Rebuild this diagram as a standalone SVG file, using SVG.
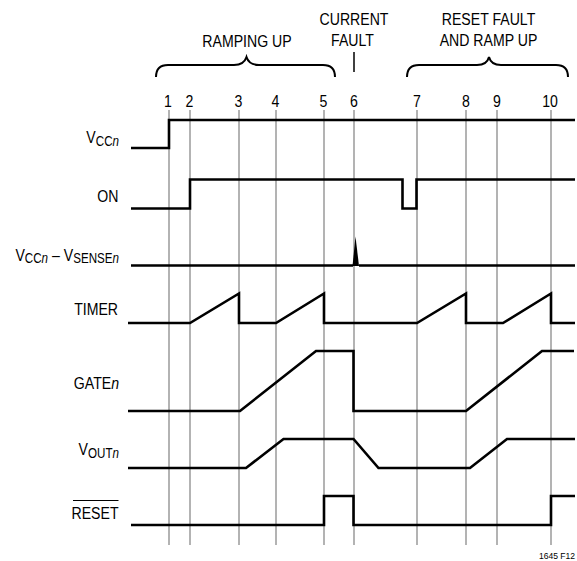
<svg xmlns="http://www.w3.org/2000/svg" width="577" height="561" viewBox="0 0 577 561">
<style>
text{font-family:"Liberation Sans Narrow","Liberation Sans",Arial,sans-serif;font-size:17px;fill:#000}
.sub{font-size:14px}
.it{font-style:italic}
.grid line{stroke:#808080;stroke-width:1.2}
.wave{fill:none;stroke:#000;stroke-width:2.6;stroke-linejoin:miter}
.brace{fill:none;stroke:#000;stroke-width:2}
</style>
<rect width="577" height="561" fill="#fff"/>
<g id="grid" class="grid">
<line x1="169" y1="110" x2="169" y2="545"/>
<line x1="190" y1="110" x2="190" y2="545"/>
<line x1="239" y1="110" x2="239" y2="545"/>
<line x1="276" y1="110" x2="276" y2="545"/>
<line x1="324" y1="110" x2="324" y2="545"/>
<line x1="354" y1="110" x2="354" y2="545"/>
<line x1="417" y1="110" x2="417" y2="545"/>
<line x1="466" y1="110" x2="466" y2="545"/>
<line x1="497" y1="110" x2="497" y2="545"/>
<line x1="551" y1="110" x2="551" y2="545"/>
</g>
<g id="numbers" text-anchor="middle">
<text transform="translate(168,106.5) scale(0.83,1)">1</text>
<text transform="translate(189.5,106.5) scale(0.83,1)">2</text>
<text transform="translate(238.5,106.5) scale(0.83,1)">3</text>
<text transform="translate(275.5,106.5) scale(0.83,1)">4</text>
<text transform="translate(323.5,106.5) scale(0.83,1)">5</text>
<text transform="translate(354,106.5) scale(0.83,1)">6</text>
<text transform="translate(417,106.5) scale(0.83,1)">7</text>
<text transform="translate(466,106.5) scale(0.83,1)">8</text>
<text transform="translate(497,106.5) scale(0.83,1)">9</text>
<text transform="translate(550,106.5) scale(0.83,1)">10</text>
</g>
<g id="phase-ramping" text-anchor="middle">
<text transform="translate(247,46.5) scale(0.83,1)">RAMPING UP</text>
<path class="brace" d="M156,77 Q156,65 168,65 L234,65 Q244,65 246.5,57 Q249,65 259,65 L323,65 Q335,65 335,77"/>
</g>
<g id="phase-fault" text-anchor="middle">
<text transform="translate(354,25) scale(0.83,1)">CURRENT</text>
<text transform="translate(352.5,46) scale(0.83,1)">FAULT</text>
<line x1="354" y1="52" x2="354" y2="72" stroke="#000" stroke-width="1.5"/>
</g>
<g id="phase-reset" text-anchor="middle">
<text transform="translate(488.5,25) scale(0.83,1)">RESET FAULT</text>
<text transform="translate(488.5,46) scale(0.83,1)">AND RAMP UP</text>
<path class="brace" d="M407,77 Q407,65 419,65 L477,65 Q487,65 489,57 Q491,65 501,65 L556,65 Q568,65 568,77"/>
</g>
<g id="vcc" text-anchor="end">
<text transform="translate(119,143) scale(0.83,1)">V<tspan class="sub" dy="2.5">CC</tspan><tspan class="sub it">n</tspan></text>
<path class="wave" d="M131,148 H169 V120 H575"/>
</g>
<g id="on" text-anchor="end">
<text transform="translate(118.5,202) scale(0.83,1)">ON</text>
<path class="wave" d="M131,208.5 H190 V179.5 H402.5 V208.5 H416.5 V179.5 H575"/>
</g>
<g id="vsense" text-anchor="end">
<text transform="translate(119,260.5) scale(0.83,1)">V<tspan class="sub" dy="2.5">CC</tspan><tspan class="sub it">n</tspan><tspan dy="-2.5"> – V</tspan><tspan class="sub" dy="2.5">SENSE</tspan><tspan class="sub it">n</tspan></text>
<path class="wave" d="M131,265.5 H353 M359,265.5 H575"/>
<polygon points="352.5,266 355.5,236.5 359,266" fill="#000"/>
</g>
<g id="timer" text-anchor="end">
<text transform="translate(118,315) scale(0.83,1)">TIMER</text>
<path class="wave" d="M128,323 H190 L239,293.5 V323 H276 L324,293.5 V323 H417 L466,293.5 V323 H503 L551,293.5 V323 H575"/>
</g>
<g id="gate" text-anchor="end">
<text transform="translate(119,389) scale(0.83,1)">GATE<tspan class="it">n</tspan></text>
<path class="wave" d="M128,411 H240 L316,351 H353.5 V411 H466 L542,351 H574"/>
</g>
<g id="vout" text-anchor="end">
<text transform="translate(119,455) scale(0.83,1)">V<tspan class="sub" dy="2.5">OUT</tspan><tspan class="sub it">n</tspan></text>
<path class="wave" d="M128,468 H246 L283.5,439 H353.5 L378.5,468 H470 L507,439 H575"/>
</g>
<g id="reset" text-anchor="end">
<text transform="translate(118.5,519) scale(0.83,1)">RESET</text>
<line x1="73" y1="500.5" x2="118.5" y2="500.5" stroke="#000" stroke-width="1"/>
<path class="wave" d="M131,525 H324 V496 H353.5 V525 H551 V496 H575"/>
</g>
<text transform="translate(575,559) scale(0.9,1)" text-anchor="end" style="font-size:9.5px">1645 F12</text>
</svg>
